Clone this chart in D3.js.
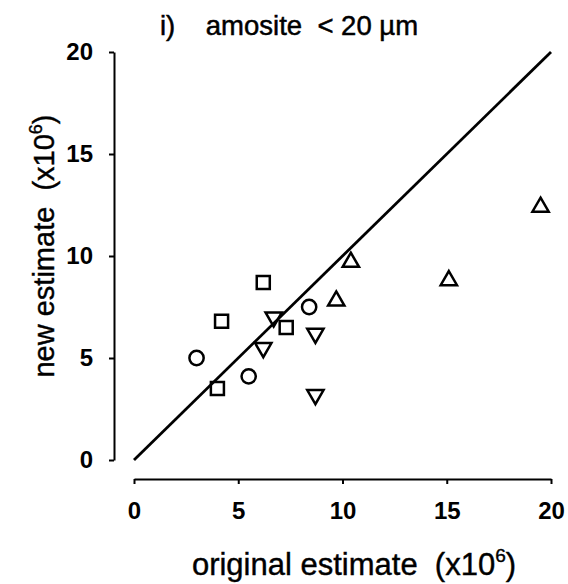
<!DOCTYPE html>
<html><head><meta charset="utf-8">
<script src="https://cdn.jsdelivr.net/npm/d3@7"></script>
<style>body{margin:0;background:#fff}svg{display:block}</style>
</head><body>
<svg id="c" width="568" height="584"></svg>
<script>
const ticks = [0, 5, 10, 15, 20];
const circles = [[3.0, 5.0], [5.5, 4.1], [8.4, 7.5]];
const squares = [[4.0, 3.5], [4.2, 6.8], [6.2, 8.7], [7.3, 6.5]];
const downTriangles = [[6.7, 7.0], [6.2, 5.5], [8.7, 6.2], [8.7, 3.2]];
const upTriangles = [[9.7, 7.8], [10.4, 9.7], [15.1, 8.8], [19.5, 12.4]];
const identityLine = [[0, 0], [20, 20]];

const svg = d3.select("#c");
const font = "'Liberation Sans', Arial, sans-serif";
const x = d3.scaleLinear().domain([0, 20]).range([134, 551]);
const y = d3.scaleLinear().domain([0, 20]).range([460, 52]);

// axes
const xAxis = svg.append("g").attr("transform", "translate(0,479)")
  .call(d3.axisBottom(x).tickValues(ticks).tickSize(5).tickPadding(18).tickSizeOuter(0));
const yAxis = svg.append("g").attr("transform", "translate(114,0)")
  .call(d3.axisLeft(y).tickValues(ticks).tickSize(5).tickPadding(16).tickSizeOuter(0));
[xAxis, yAxis].forEach(a => {
  a.select(".domain").attr("stroke", "#000").attr("stroke-width", 2);
  a.selectAll(".tick line").attr("stroke", "#000").attr("stroke-width", 2);
  a.selectAll(".tick text").attr("font-family", font).attr("font-size", 24)
    .attr("font-weight", "bold").attr("fill", "#000");
});

// identity line
svg.append("path").datum(identityLine)
  .attr("d", d3.line().x(d => x(d[0])).y(d => y(d[1])))
  .attr("stroke", "#000").attr("stroke-width", 2.8).attr("fill", "none");

const mk = (data, type, size, rot) => {
  svg.append("g").selectAll("path").data(data).join("path")
    .attr("d", d3.symbol().type(type).size(size))
    .attr("transform", d => `translate(${x(d[0])},${y(d[1])}) rotate(${rot})`)
    .attr("fill", "none").attr("stroke", "#000").attr("stroke-width", 2.5);
};
mk(circles, d3.symbolCircle, 160, 0);
mk(squares, d3.symbolSquare, 170, 0);
mk(downTriangles, d3.symbolTriangle, 115, 180);
mk(upTriangles, d3.symbolTriangle, 115, 0);

// title
svg.append("text").attr("x", 160).attr("y", 35).attr("font-family", font)
  .attr("font-size", 27.5).attr("fill", "#000").attr("stroke", "#000").attr("stroke-width", 0.5)
  .attr("xml:space", "preserve")
  .text("i)    amosite  < 20 µm");

// x label
const xl = svg.append("text").attr("x", 354).attr("y", 575).attr("text-anchor", "middle")
  .attr("font-family", font).attr("font-size", 31).attr("fill", "#000")
  .attr("stroke", "#000").attr("stroke-width", 0.4).attr("xml:space", "preserve");
xl.append("tspan").text("original estimate  (x10");
xl.append("tspan").attr("font-size", 19).attr("dy", -13).text("6");
xl.append("tspan").attr("dy", 13).text(")");

// y label
const yl = svg.append("text").attr("transform", "translate(54,246) rotate(-90)").attr("text-anchor", "middle")
  .attr("font-family", font).attr("font-size", 29).attr("fill", "#000")
  .attr("stroke", "#000").attr("stroke-width", 0.4).attr("xml:space", "preserve");
yl.append("tspan").text("new estimate  (x10");
yl.append("tspan").attr("font-size", 18).attr("dy", -12).text("6");
yl.append("tspan").attr("dy", 12).text(")");
</script>
</body></html>
